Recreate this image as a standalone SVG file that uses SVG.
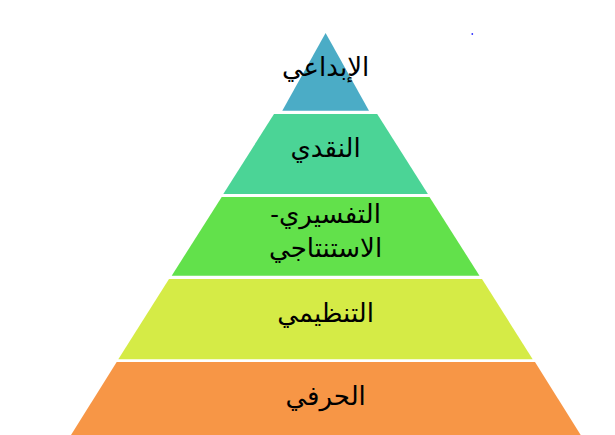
<svg xmlns="http://www.w3.org/2000/svg" width="615" height="435" viewBox="0 0 615 435">
<style>
.t{font-family:"Liberation Sans","DejaVu Sans","Noto Sans",sans-serif;font-size:26px;fill:#000;text-anchor:middle;direction:rtl}
</style>
<rect width="615" height="435" fill="#fff"/>
<g id="level1">
<polygon points="325.6,33 369,110.7 282.3,110.7" fill="#4BACC6"/>
<text class="t" x="325.6" y="76">الإبداعي</text>
</g>
<g id="level2">
<polygon points="274,114 377.2,114 427.9,194 223.3,194" fill="#4BD496"/>
<text class="t" x="325.6" y="157">النقدي</text>
</g>
<g id="level3">
<polygon points="221.7,197 429.5,197 479.5,275.7 171.7,275.7" fill="#62E14B"/>
<text class="t" x="325.6" y="223">التفسيري-</text>
<text class="t" x="325.6" y="257">الاستنتاجي</text>
</g>
<g id="level4">
<polygon points="169,279 482,279 532.7,359.3 118.3,359.3" fill="#D5EB46"/>
<text class="t" x="325.6" y="322">التنظيمي</text>
</g>
<g id="level5">
<polygon points="116.7,362 535,362 580.7,435 71,435" fill="#F79646"/>
<text class="t" x="325.6" y="405">الحرفي</text>
</g>
<g id="connectors"></g>
<circle cx="472.3" cy="34" r="0.9" fill="#3030FF"/>
</svg>
